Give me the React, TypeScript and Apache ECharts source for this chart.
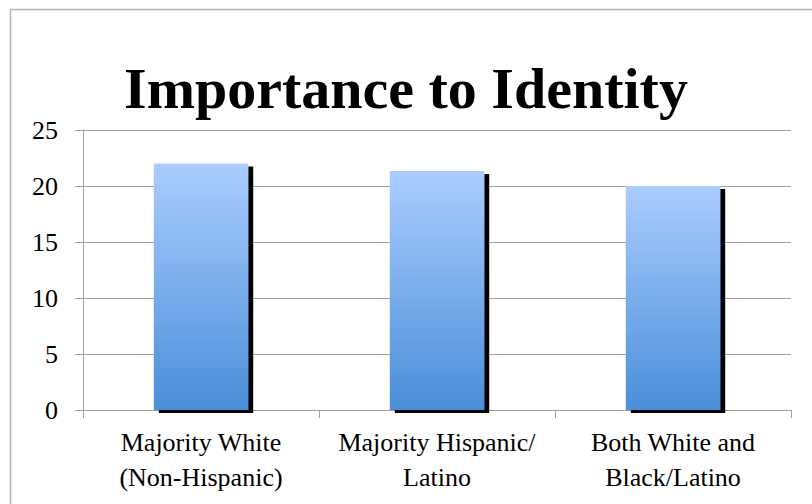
import React, { useEffect, useRef } from "react";
import * as echarts from "echarts";

const categories = ["Majority White\n(Non-Hispanic)", "Majority Hispanic/\nLatino", "Both White and\nBlack/Latino"];
const values = [22, 21.35, 20];
const yMin = 0;
const yMax = 25;
const yStep = 5;
const titleText = "Importance to Identity";

const FONT = '"Liberation Serif", "Times New Roman", serif';

export default function App() {
  const ref = useRef<HTMLDivElement>(null);
  useEffect(() => {
    if (!ref.current) return;
    const chart = echarts.init(ref.current, null, { renderer: "svg" });
    chart.setOption({
      animation: false,
      backgroundColor: "#ffffff",
      graphic: [
        {
          type: "rect",
          shape: { x: 10.5, y: 9.5, width: 900, height: 600 },
          style: { fill: "none", stroke: "#b4b4b4", lineWidth: 1.5 },
          silent: true,
        },
        {
          type: "text",
          x: 406,
          y: 88,
          style: {
            text: titleText,
            font: `bold 58px ${FONT}`,
            fill: "#000000",
            textAlign: "center",
            textVerticalAlign: "middle",
          },
        },
      ],
      grid: { left: 83, right: 21, top: 130, bottom: 94, containLabel: false },
      xAxis: {
        type: "category",
        data: categories,
        axisLine: { show: true, lineStyle: { color: "#a0a0a0", width: 1 } },
        axisTick: { show: true, length: 8, alignWithLabel: false, lineStyle: { color: "#a0a0a0" } },
        axisLabel: {
          color: "#000000",
          fontFamily: FONT,
          fontSize: 26,
          lineHeight: 35,
          margin: 15,
          interval: 0,
        },
        splitLine: { show: false },
      },
      yAxis: {
        type: "value",
        min: yMin,
        max: yMax,
        interval: yStep,
        axisLine: { show: true, lineStyle: { color: "#a0a0a0", width: 1 } },
        axisTick: { show: true, length: 8, lineStyle: { color: "#a0a0a0" } },
        axisLabel: { color: "#000000", fontFamily: FONT, fontSize: 26, margin: 25 },
        splitLine: { show: true, lineStyle: { color: "#a0a0a0", width: 1 } },
      },
      series: [
        {
          type: "bar",
          data: values,
          barWidth: "40%",
          itemStyle: {
            color: new echarts.graphic.LinearGradient(0, 0, 0, 1, [
              { offset: 0, color: "#abcdff" },
              { offset: 1, color: "#4a8ed8" },
            ]),
            shadowColor: "#000000",
            shadowBlur: 0,
            shadowOffsetX: 5,
            shadowOffsetY: 3,
          },
        },
      ],
    });
    return () => chart.dispose();
  }, []);
  return <div ref={ref} style={{ position: "fixed", left: 0, top: 0, width: 812, height: 504 }} />;
}
